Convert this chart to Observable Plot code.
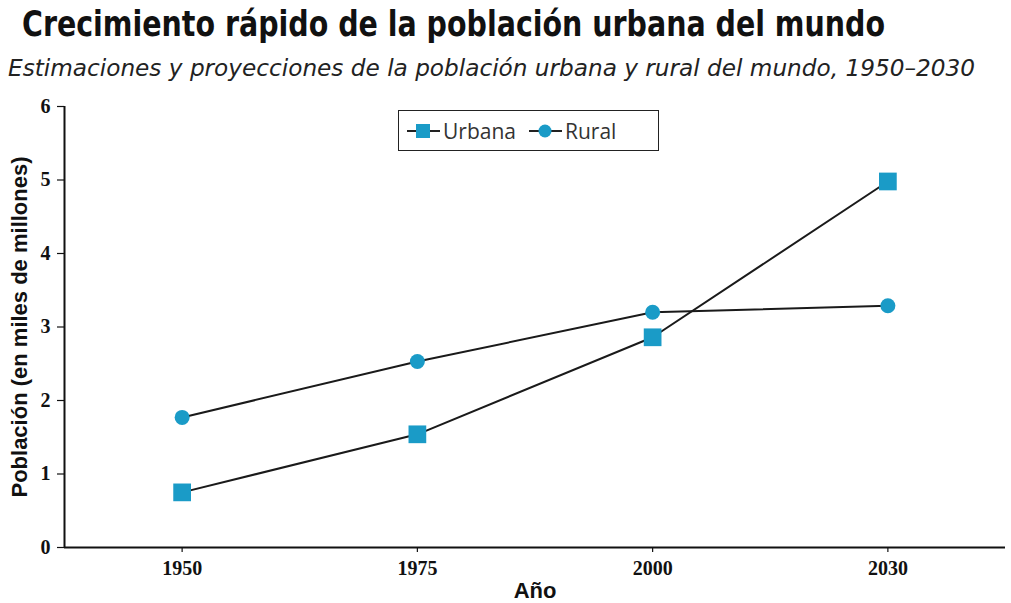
<!DOCTYPE html>
<html>
<head>
<meta charset="utf-8">
<script src="https://cdn.jsdelivr.net/npm/d3@7"></script>
<script src="https://cdn.jsdelivr.net/npm/@observablehq/plot@0.6"></script>
<style>
  html, body { margin: 0; padding: 0; background: #fff; }
  #wrap { position: relative; width: 1011px; height: 603px; overflow: hidden; }
  #title { position: absolute; left: 22px; top: 3px; font: bold 36px "DejaVu Sans", sans-serif; color: #111; white-space: nowrap; transform-origin: 0 0; }
  #subtitle { position: absolute; left: 8px; top: 55px; font: italic 23px "DejaVu Sans", sans-serif; color: #222; white-space: nowrap; transform-origin: 0 0; }
  #chart { position: absolute; left: 0; top: 92px; }
  #legend { position: absolute; left: 398px; top: 110px; width: 259px; height: 39px; border: 1.6px solid #222; background: #fff; display: flex; align-items: center; font: 21px "Open Sans", "Liberation Sans", sans-serif; color: #333; }
  #legend .item { display: flex; align-items: center; }
  #legend svg { display: block; }
  g[aria-label="y-axis tick label"] text, g[aria-label="x-axis tick label"] text { font-family: "Liberation Serif", "Times New Roman", serif; font-weight: bold; font-size: 20px; fill: #111; }
  g[aria-label="y-axis label"] text, g[aria-label="x-axis label"] text { font-family: "Liberation Sans", Arial, sans-serif; font-weight: bold; font-size: 22px; fill: #111; }
</style>
</head>
<body>
<div id="wrap">
  <div id="title">Crecimiento rápido de la población urbana del mundo</div>
  <div id="subtitle">Estimaciones y proyecciones de la población urbana y rural del mundo, 1950–2030</div>
  <div id="chart"></div>
  <div id="legend"></div>
</div>
<script>
const years = ["1950", "1975", "2000", "2030"];
const urbana = [0.75, 1.54, 2.86, 4.98];
const rural = [1.77, 2.53, 3.20, 3.29];
const yTicks = [0, 1, 2, 3, 4, 5, 6];
const seriesNames = ["Urbana", "Rural"];

const color = "#1a9bc7";
const idx = years.map((_, i) => i);
const urbanData = idx.map(i => ({i, v: urbana[i]}));
const ruralData = idx.map(i => ({i, v: rural[i]}));

const chart = Plot.plot({
  width: 1011,
  height: 511,
  marginLeft: 64,
  marginRight: 6,
  marginTop: 14,
  marginBottom: 56,
  style: { background: "transparent", overflow: "visible" },
  x: { domain: [-0.5, years.length - 0.5] },
  y: { domain: [0, 6] },
  marks: [
    Plot.axisY({
      ticks: yTicks, tickSize: 7, tickPadding: 7, tickFormat: d => String(d),
      stroke: "#111", strokeWidth: 1.2,
      label: "Población (en miles de millones)", labelAnchor: "center", labelArrow: "none", labelOffset: 53
    }),
    Plot.axisX({
      ticks: idx, tickSize: 5, tickPadding: 8, tickFormat: i => years[i],
      stroke: "#111", strokeWidth: 1.2,
      label: "Año", labelAnchor: "center", labelArrow: "none", labelOffset: 50
    }),
    Plot.ruleY([0], { stroke: "#111", strokeWidth: 2 }),
    Plot.ruleX([-0.5], { stroke: "#111", strokeWidth: 2 }),
    Plot.line(urbanData, { x: "i", y: "v", stroke: "#1a1a1a", strokeWidth: 2 }),
    Plot.line(ruralData, { x: "i", y: "v", stroke: "#1a1a1a", strokeWidth: 2 }),
    Plot.dot(urbanData, { x: "i", y: "v", symbol: "square", r: 10, fill: color, stroke: "none" }),
    Plot.dot(ruralData, { x: "i", y: "v", symbol: "circle", r: 7.5, fill: color, stroke: "none" })
  ]
});
document.getElementById("chart").appendChild(chart);

// fit heading widths to the reference
function fitWidth(id, target) {
  const el = document.getElementById(id);
  const w = el.getBoundingClientRect().width;
  el.style.transform = `scaleX(${target / w})`;
}
fitWidth("title", 863);
fitWidth("subtitle", 967);

// Legend
const legend = document.getElementById("legend");
seriesNames.forEach((name, k) => {
  const item = document.createElement("div");
  item.className = "item";
  item.style.marginLeft = k === 0 ? "7px" : "12px";
  const sym = k === 0
    ? `<rect x="10" y="5" width="14" height="14" fill="${color}"/>`
    : `<circle cx="17" cy="12" r="6.5" fill="${color}"/>`;
  item.innerHTML = `<svg width="36" height="24"><line x1="1" y1="12" x2="34" y2="12" stroke="#222" stroke-width="2"/>${sym}</svg><span style="margin-left:1px">${name}</span>`;
  legend.appendChild(item);
});
</script>
</body>
</html>
